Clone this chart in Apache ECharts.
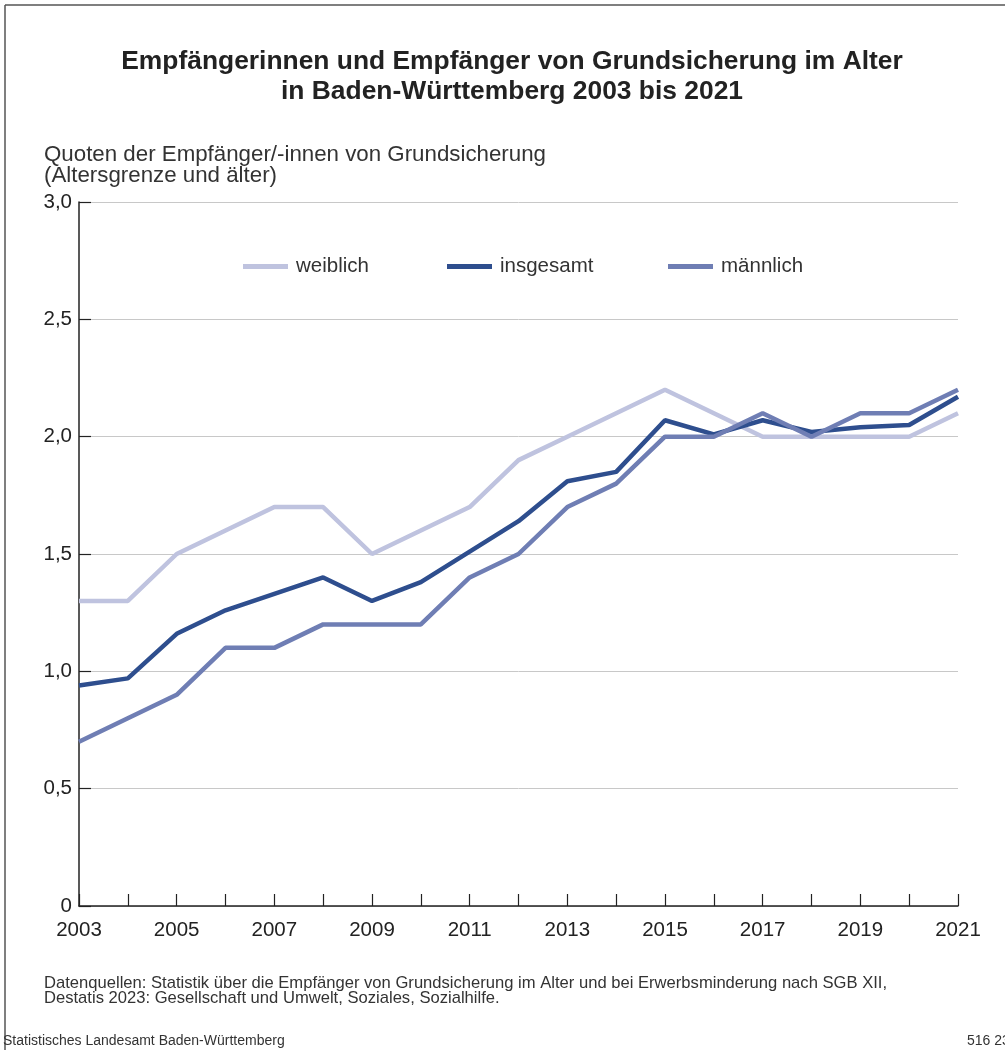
<!DOCTYPE html>
<html>
<head>
<meta charset="utf-8">
<script src="https://cdn.jsdelivr.net/npm/echarts@6/dist/echarts.min.js"></script>
<style>
html,body{margin:0;padding:0;background:#fff;}
#chart{width:1005px;height:1050px;}
</style>
</head>
<body>
<div id="chart"></div>
<script>
const years = ['2003','2004','2005','2006','2007','2008','2009','2010','2011','2012','2013','2014','2015','2016','2017','2018','2019','2020','2021'];
const weiblich = [1.3,1.3,1.5,1.6,1.7,1.7,1.5,1.6,1.7,1.9,2.0,2.1,2.2,2.1,2.0,2.0,2.0,2.0,2.1];
const insgesamt = [0.94,0.97,1.16,1.26,1.33,1.40,1.30,1.38,1.51,1.64,1.81,1.85,2.07,2.01,2.07,2.02,2.04,2.05,2.17];
const maennlich = [0.7,0.8,0.9,1.1,1.1,1.2,1.2,1.2,1.4,1.5,1.7,1.8,2.0,2.0,2.1,2.0,2.1,2.1,2.2];
const seriesNames = ['weiblich','insgesamt','männlich'];
const colors = ['#bfc3df','#2e4e8e','#6f7eb4'];

const FONT = '"Liberation Sans", Arial, Helvetica, sans-serif';
const chart = echarts.init(document.getElementById('chart'), null, {renderer:'canvas'});

function legendAt(name, left){
  return {
    data:[name], left:left, top:256, orient:'horizontal', padding:0,
    icon:'rect', itemWidth:45, itemHeight:5, itemGap:0,
    textStyle:{fontFamily:FONT, fontSize:20.5, color:'#333', padding:[0,0,0,3]},
    selectedMode:false
  };
}

chart.setOption({
  animation:false,
  textStyle:{fontFamily:FONT},
  grid:{left:79, right:47, top:202, height:704, containLabel:false},
  legend:[legendAt(seriesNames[0],243), legendAt(seriesNames[1],447), legendAt(seriesNames[2],668)],
  xAxis:{
    type:'category', data:years, boundaryGap:false,
    axisLine:{lineStyle:{color:'#222', width:1.5}},
    axisTick:{show:true, inside:true, length:12, interval:0, lineStyle:{color:'#222', width:1.2}},
    axisLabel:{interval:1, fontSize:20.5, color:'#222', margin:14, fontFamily:FONT},
    splitLine:{show:false}
  },
  yAxis:{
    type:'value', min:0, max:3, interval:0.5,
    axisLine:{show:true, lineStyle:{color:'#222', width:1.5}},
    axisTick:{show:true, inside:true, length:12, lineStyle:{color:'#222', width:1.2}},
    axisLabel:{fontSize:20.5, color:'#222', margin:7, fontFamily:FONT,
      formatter:v => v === 0 ? '0' : v.toFixed(1).replace('.', ',')},
    splitLine:{lineStyle:{color:'#c8c8c8', width:1}}
  },
  series:[
    {name:seriesNames[0], type:'line', data:weiblich, symbol:'none', lineStyle:{width:4.5, color:colors[0]}, itemStyle:{color:colors[0]}},
    {name:seriesNames[1], type:'line', data:insgesamt, symbol:'none', lineStyle:{width:4.5, color:colors[1]}, itemStyle:{color:colors[1]}},
    {name:seriesNames[2], type:'line', data:maennlich, symbol:'none', lineStyle:{width:4.5, color:colors[2]}, itemStyle:{color:colors[2]}}
  ],
  graphic:[
    {type:'line', shape:{x1:5,y1:5,x2:1005,y2:5}, style:{stroke:'#555', lineWidth:1.5}},
    {type:'line', shape:{x1:5,y1:5,x2:5,y2:1050}, style:{stroke:'#555', lineWidth:1.5}},
    {type:'text', x:512, y:62, style:{text:'Empfängerinnen und Empfänger von Grundsicherung im Alter', font:'bold 26.4px '+FONT, fill:'#222', textAlign:'center', textVerticalAlign:'middle'}},
    {type:'text', x:512, y:92, style:{text:'in Baden-Württemberg 2003 bis 2021', font:'bold 26.4px '+FONT, fill:'#222', textAlign:'center', textVerticalAlign:'middle'}},
    {type:'text', x:44, y:155, style:{text:'Quoten der Empfänger/-innen von Grundsicherung', font:'22.3px '+FONT, fill:'#333', textVerticalAlign:'middle'}},
    {type:'text', x:44, y:176, style:{text:'(Altersgrenze und älter)', font:'22.3px '+FONT, fill:'#333', textVerticalAlign:'middle'}},
    {type:'text', x:44, y:983, style:{text:'Datenquellen: Statistik über die Empfänger von Grundsicherung im Alter und bei Erwerbsminderung nach SGB XII,', font:'16.6px '+FONT, fill:'#333', textVerticalAlign:'middle'}},
    {type:'text', x:44, y:998, style:{text:'Destatis 2023: Gesellschaft und Umwelt, Soziales, Sozialhilfe.', font:'16.6px '+FONT, fill:'#333', textVerticalAlign:'middle'}},
    {type:'text', x:3, y:1041, style:{text:'Statistisches Landesamt Baden-Württemberg', font:'14px '+FONT, fill:'#333', textVerticalAlign:'middle'}},
    {type:'text', x:967, y:1041, style:{text:'516 23', font:'14px '+FONT, fill:'#333', textVerticalAlign:'middle'}}
  ]
});
</script>
</body>
</html>
